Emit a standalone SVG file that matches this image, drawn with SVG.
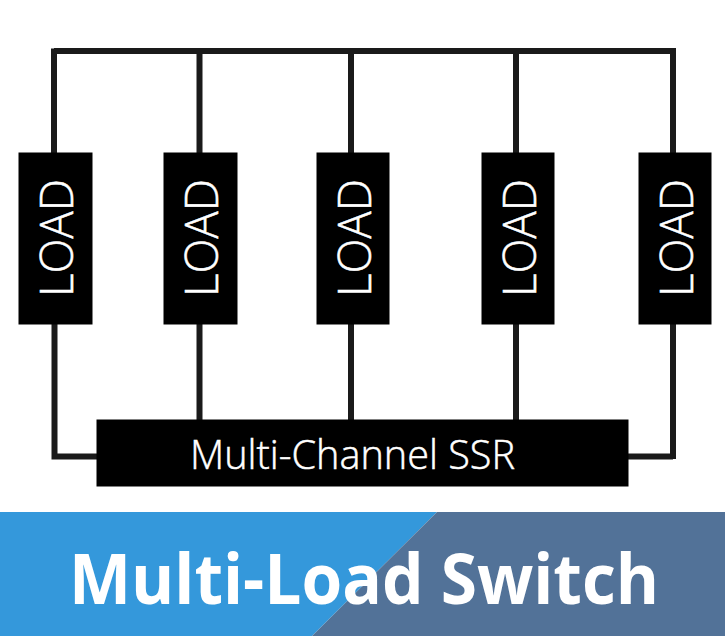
<svg xmlns="http://www.w3.org/2000/svg" width="725" height="636" viewBox="0 0 725 636">
<style>
.w{fill:none;stroke:#1a1a1a;stroke-width:6}
.b{fill:#000}
.t{fill:#fff;font-family:"Open Sans","Noto Sans",sans-serif}
.h{stroke:#fff;stroke-width:.5}
.l{font-size:46px;font-weight:300;text-anchor:middle}
</style>
<rect width="725" height="636" fill="#fff"/>
<polygon points="0,512 437,512 312,636 0,636" fill="#3498db"/>
<polygon points="437,512 725,512 725,636 312,636" fill="#527298"/>
<g id="connectors">
<path class="w" d="M54,51H676M54,48.500V153M199.500,51V153M351,51V153M516,51V153M673,51V153"/>
<path class="w" d="M54.500,324V456.500H97M199.500,324V420M351,324V420M516,324V420M673,324V459M673,456.500H628"/>
</g>
<g id="load1"><rect class="b" x="18.500" y="152.500" width="74" height="172"/><text class="t l h" transform="translate(73,238) rotate(-90)" textLength="118" lengthAdjust="spacingAndGlyphs">LOAD</text></g>
<g id="load2"><rect class="b" x="163.500" y="152.500" width="74" height="172"/><text class="t l h" transform="translate(218,238) rotate(-90)" textLength="118" lengthAdjust="spacingAndGlyphs">LOAD</text></g>
<g id="load3"><rect class="b" x="316.500" y="152.500" width="73" height="172"/><text class="t l h" transform="translate(371,238) rotate(-90)" textLength="118" lengthAdjust="spacingAndGlyphs">LOAD</text></g>
<g id="load4"><rect class="b" x="481.500" y="152.500" width="73" height="172"/><text class="t l h" transform="translate(536,238) rotate(-90)" textLength="118" lengthAdjust="spacingAndGlyphs">LOAD</text></g>
<g id="load5"><rect class="b" x="638.500" y="152.500" width="73" height="172"/><text class="t l h" transform="translate(693,238) rotate(-90)" textLength="118" lengthAdjust="spacingAndGlyphs">LOAD</text></g>
<g id="ssr"><rect class="b" x="96.500" y="419.500" width="532" height="67"/><text class="t h" x="352.500" y="469" font-size="40" font-weight="300" text-anchor="middle" textLength="325" lengthAdjust="spacingAndGlyphs">Multi-Channel SSR</text></g>
<text class="t" x="364" y="604" font-size="70" font-weight="700" text-anchor="middle" textLength="590" lengthAdjust="spacingAndGlyphs">Multi-Load Switch</text>
</svg>
